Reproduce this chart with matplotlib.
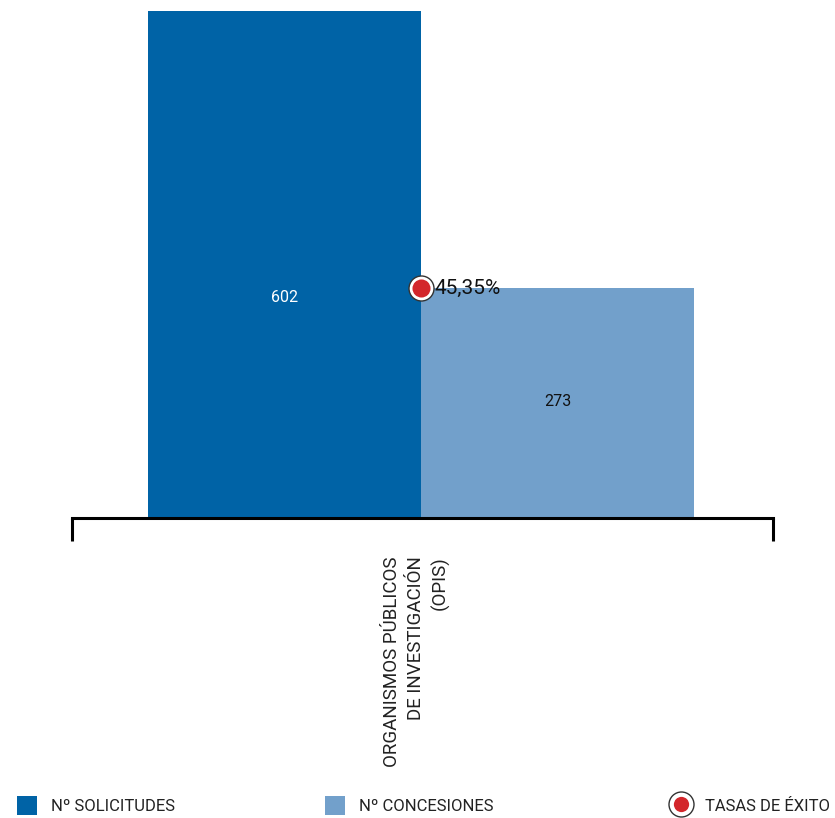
import matplotlib
matplotlib.use("Agg")
import matplotlib.pyplot as plt
from matplotlib.lines import Line2D
from matplotlib.patches import Patch

plt.rcParams['font.family'] = ['Roboto', 'DejaVu Sans']

# data
category = "ORGANISMOS PÚBLICOS\nDE INVESTIGACIÓN\n(OPIS)"
series = ["Nº SOLICITUDES", "Nº CONCESIONES"]
values = [602, 273]
rate = 45.35
rate_label = "45,35%"
rate_name = "TASAS DE ÉXITO"

c_sol = '#0063a6'
c_con = '#72a0cb'
c_red = '#d3262b'

fig = plt.figure(figsize=(8.35, 8.18), dpi=100)
ax = fig.add_axes([0.0862, 0.3667, 0.8395, 0.6199])

width = 0.39
center = -0.002
offsets = [center - width / 2, center + width / 2]
colors = [c_sol, c_con]
text_colors = ['white', '#111111']
label_frac = [0.435, 0.505]
for off, v, col, tc, fr in zip(offsets, values, colors, text_colors, label_frac):
    ax.bar(off, v, width=width, color=col, linewidth=0)
    ax.text(off, v * fr, str(v), ha='center', va='center', color=tc, fontsize=11.5)

ax.set_xlim(-0.5, 0.5)
ax.set_ylim(0, max(values))
for s in ['top', 'right', 'left']:
    ax.spines[s].set_visible(False)
ax.spines['bottom'].set_linewidth(2.2)
ax.spines['bottom'].set_color('black')
ax.set_yticks([])
ax.set_xticks([-0.5, 0.5])
ax.set_xticklabels(['', ''])
ax.tick_params(axis='x', direction='out', length=16.5, width=2.2, color='black')

ax.text(-0.008, -0.075, category, transform=ax.get_xaxis_transform(), rotation=90,
        ha='center', va='top', multialignment='right', fontsize=13.5, color='#222222',
        linespacing=1.4)

# success rate on secondary scale (0-100 %)
ax2 = ax.twinx()
ax2.set_ylim(0, 100)
ax2.axis('off')
ax2.plot([center], [rate], marker='o', markersize=18, markerfacecolor='white',
         markeredgecolor='#333333', markeredgewidth=1, linestyle='none', clip_on=False)
ax2.plot([center], [rate], marker='o', markersize=13, markerfacecolor=c_red,
         markeredgewidth=0, linestyle='none', clip_on=False)
ax2.annotate(rate_label, (center, rate), xytext=(10, 0), textcoords='offset points',
             ha='left', va='center', fontsize=15, color='#111111')

# legend
h1 = Patch(facecolor=c_sol, edgecolor='none')
h2 = Patch(facecolor=c_con, edgecolor='none')
h3 = Line2D([], [], marker='o', markersize=13, markerfacecolor=c_red,
            markeredgecolor='white', markeredgewidth=2, linestyle='none')
h3b = Line2D([], [], marker='o', markersize=18, markerfacecolor='white',
             markeredgecolor='#333333', markeredgewidth=1, linestyle='none')
kw = dict(frameon=False, fontsize=12, handlelength=1.2, handleheight=1.35,
          handletextpad=0.85, borderaxespad=0, labelcolor='#222222')
fig.legend([h1], [series[0]], loc='center left', bbox_to_anchor=(0.012, 0.015), **kw)
fig.legend([h2], [series[1]], loc='center left', bbox_to_anchor=(0.381, 0.015), **kw)
fig.legend([(h3b, h3)], [rate_name], loc='center left', bbox_to_anchor=(0.796, 0.015), **kw)

fig.savefig('out.png', dpi=100)
